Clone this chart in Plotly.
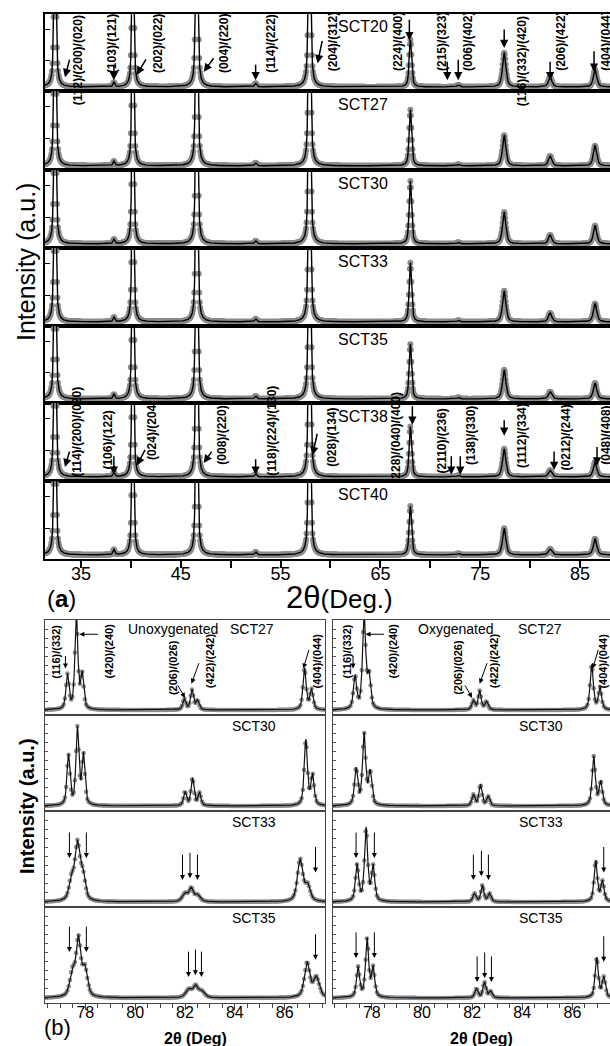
import numpy as np
import plotly.graph_objects as go

W, H = 610, 1046
FONT = "Liberation Sans, Arial, sans-serif"

# ---------------- data: panel (a) ----------------
A_SAMPLES = ["SCT20", "SCT27", "SCT30", "SCT33", "SCT35", "SCT38", "SCT40"]
A_PEAK_POS = [32.4, 38.3, 40.2, 46.6, 52.5, 57.9, 68.0, 72.8, 77.4, 82.0, 86.5]
A_PEAK_FWHM = [0.22, 0.2, 0.2, 0.24, 0.25, 0.25, 0.28, 0.3, 0.4, 0.4, 0.4]
A_HEIGHTS = {
    "SCT20": [3.0, 0.06, 3.0, 3.0, 0.05, 3.0, 0.65, 0.03, 0.47, 0.14, 0.24],
    "SCT27": [3.0, 0.06, 3.0, 3.0, 0.04, 3.0, 0.75, 0.02, 0.41, 0.13, 0.27],
    "SCT30": [3.0, 0.06, 3.0, 3.0, 0.04, 3.0, 0.85, 0.02, 0.43, 0.12, 0.25],
    "SCT33": [3.0, 0.06, 3.0, 3.0, 0.04, 3.0, 0.80, 0.02, 0.42, 0.12, 0.25],
    "SCT35": [3.0, 0.06, 3.0, 3.0, 0.04, 3.0, 0.75, 0.02, 0.40, 0.10, 0.22],
    "SCT38": [3.0, 0.06, 3.0, 3.0, 0.04, 3.0, 0.68, 0.02, 0.38, 0.09, 0.20],
    "SCT40": [3.0, 0.07, 3.0, 3.0, 0.04, 3.0, 0.66, 0.02, 0.36, 0.08, 0.22],
}
A_XRANGE = [31.4, 88.0]
A_TICKS = [35, 45, 55, 65, 75, 85]
A_MINOR_TICKS = [40, 50, 60, 70, 80]

# labels (text, x-position, y-fraction of row) and arrows (x, y-frac, ax px, ay px)
A_LABELS_TOP = [
    ("(112)/(200)/(020)", 34.7, 0.40), ("(103)/(121)", 38.1, 0.62), ("(202)/(022)", 42.7, 0.62),
    ("(004)/(220)", 49.4, 0.62), ("(114)/(222)", 54.1, 0.62), ("(204)/(312)", 60.2, 0.64),
    ("(224)/(400)", 66.7, 0.64), ("(215)/(323)", 71.1, 0.64), ("(006)/(402)", 73.7, 0.64),
    ("(116)/(332)/(420)", 79.2, 0.39), ("(206)/(422)", 83.1, 0.64), ("(404)/(044)", 87.6, 0.64),
]
A_ARROWS_TOP = [
    (33.4, 0.18, 5, -19), (38.3, 0.14, 0, -17), (40.6, 0.21, 10, -17), (47.3, 0.25, 11, -15),
    (52.5, 0.14, 0, -17), (58.7, 0.36, 5, -24), (67.9, 0.66, 0, -22), (71.7, 0.14, 0, -20),
    (72.8, 0.14, 0, -22), (77.4, 0.56, 0, -20), (82.0, 0.14, 0, -20), (86.4, 0.25, 0, -22),
]
A_LABELS_38 = [
    ("(114)/(200)/(020)", 34.6, 0.63), ("(106)/(122)", 37.7, 0.53), ("(024)/(204)", 42.1, 0.65),
    ("(008)/(220)", 49.1, 0.59), ("(118)/(224)/(130)", 54.1, 0.64), ("(028)/(134)", 60.2, 0.56),
    ("(228)/(040)/(400)", 66.6, 0.56), ("(2110)/(236)", 71.2, 0.51), ("(138)/(330)", 74.1, 0.58),
    ("(1112)/(334)", 79.2, 0.58), ("(0212)/(244)", 83.6, 0.56), ("(048)/(408)", 87.6, 0.58),
]
A_ARROWS_38 = [
    (33.4, 0.18, 5, -17), (38.3, 0.08, 0, -20), (40.6, 0.20, 9, -17), (47.3, 0.23, 9, -13),
    (52.5, 0.08, 0, -17), (58.2, 0.33, 5, -23), (68.2, 0.72, 0, -20), (72.1, 0.08, 0, -20),
    (73.0, 0.08, 0, -20), (77.4, 0.58, 0, -17), (82.4, 0.14, 0, -20), (86.7, 0.20, 0, -20),
]

# ---------------- data: panel (b) ----------------
B_SAMPLES = ["SCT27", "SCT30", "SCT33", "SCT35"]
B_UNOX_POS = {
    "SCT27": [77.28, 77.64, 77.87, 81.97, 82.28, 82.5, 86.8, 87.08],
    "SCT30": [77.32, 77.68, 77.92, 82.0, 82.3, 82.58, 86.85, 87.12],
    "SCT33": [77.44, 77.68, 77.9, 82.0, 82.25, 82.5, 86.62, 86.92],
    "SCT35": [77.48, 77.72, 77.98, 82.15, 82.42, 82.66, 86.9, 87.27],
}
B_UNOX_H = {
    "SCT27": [0.38, 1.05, 0.38, 0.12, 0.22, 0.10, 0.46, 0.22],
    "SCT30": [0.55, 0.84, 0.55, 0.15, 0.30, 0.14, 0.72, 0.33],
    "SCT33": [0.22, 0.62, 0.26, 0.09, 0.14, 0.07, 0.46, 0.17],
    "SCT35": [0.26, 0.62, 0.30, 0.09, 0.12, 0.07, 0.38, 0.22],
}
B_UNOX_W = {
    "SCT27": [0.14, 0.14, 0.14, 0.14, 0.14, 0.14, 0.15, 0.15],
    "SCT30": [0.14, 0.14, 0.14, 0.14, 0.14, 0.14, 0.15, 0.15],
    "SCT33": [0.22, 0.24, 0.22, 0.25, 0.2, 0.25, 0.25, 0.25],
    "SCT35": [0.24, 0.22, 0.24, 0.28, 0.22, 0.28, 0.25, 0.28],
}
B_OX_POS = {
    "SCT27": [77.33, 77.69, 77.89, 82.05, 82.3, 82.57, 86.77, 87.1],
    "SCT30": [77.37, 77.69, 77.93, 82.05, 82.33, 82.64, 86.85, 87.13],
    "SCT33": [77.41, 77.77, 78.05, 82.09, 82.41, 82.69, 86.93, 87.2],
    "SCT35": [77.45, 77.81, 78.05, 82.17, 82.49, 82.73, 86.97, 87.25],
}
B_OX_H = {
    "SCT27": [0.36, 1.05, 0.36, 0.10, 0.21, 0.09, 0.50, 0.24],
    "SCT30": [0.40, 0.78, 0.36, 0.12, 0.23, 0.10, 0.54, 0.26],
    "SCT33": [0.40, 0.80, 0.38, 0.09, 0.18, 0.09, 0.45, 0.22],
    "SCT35": [0.33, 0.64, 0.32, 0.10, 0.17, 0.07, 0.44, 0.22],
}
B_OX_W = {s: [0.15, 0.15, 0.15, 0.14, 0.14, 0.14, 0.15, 0.15] for s in B_SAMPLES}
B_XRANGE_L = [76.38, 87.62]
B_XRANGE_R = [76.45, 87.5]
B_TICKS = [78, 80, 82, 84, 86]
B_MINOR_TICKS = [76.5 + 0.5 * k for k in range(23)]

B_LABELS_TOP = [  # (text, x left col, x right col, yfrac)
    ("(116)/(332)", 76.84, 77.01, 0.67), ("(420)/(240)", 78.96, 78.85, 0.67),
    ("(206)/(026)", 81.5, 81.41, 0.50), ("(422)/(242)", 82.98, 82.85, 0.57),
    ("(404)/(044)", 87.28, 87.21, 0.57),
]
B_ARROWS_TOP = [  # (xL, xR, yfrac, ax, ay)
    (77.2, 77.25, 0.49, 0, -14), (77.76, 77.75, 0.85, 20, 0),
    (82.0, 82.0, 0.18, -8, -14), (82.26, 82.3, 0.33, 8, -22), (86.75, 86.81, 0.49, 6, -20),
]
B_ARROWS_33 = {
    "L": [(77.36, 0.51), (78.04, 0.51), (81.9, 0.28), (82.2, 0.30), (82.5, 0.28), (87.24, 0.36)],
    "R": [(77.37, 0.51), (78.1, 0.51), (82.05, 0.28), (82.37, 0.32), (82.65, 0.28), (87.25, 0.36)],
}
B_ARROWS_35 = {
    "L": [(77.36, 0.53), (78.04, 0.53), (82.14, 0.27), (82.42, 0.29), (82.66, 0.27), (87.24, 0.45)],
    "R": [(77.37, 0.47), (78.1, 0.47), (82.2, 0.22), (82.5, 0.26), (82.77, 0.22), (87.25, 0.43)],
}


def profile(x, pos, hts, fwhm, eta=0.6):
    y = np.zeros_like(x)
    for p, a, f in zip(pos, hts, fwhm):
        d = (x - p) / f
        y += a * (eta / (1 + 4 * d * d) + (1 - eta) * np.exp(-4 * np.log(2) * d * d))
    return y


fig = go.Figure()
layout = dict(width=W, height=H, margin=dict(l=0, r=0, t=0, b=0),
              paper_bgcolor="white", plot_bgcolor="white", showlegend=False,
              font=dict(family=FONT, color="black"))
annotations = []


def axname(i, kind):
    return f"{kind}axis" if i == 1 else f"{kind}axis{i}"


def ref(i, kind):
    return kind if i == 1 else f"{kind}{i}"


def ydom(top, bot):
    return [1 - bot / H, 1 - top / H]


def text_ann(text, x, y, xr, yr, size, angle=0):
    annotations.append(dict(text=text, x=x, y=y, xref=xr, yref=yr, textangle=angle,
                            showarrow=False, font=dict(size=size, family=FONT),
                            xanchor="center", yanchor="middle"))


def add_arrow(x, y, ax, ay, xr, yr, width=1.2, size=1.0):
    annotations.append(dict(text="", x=x, y=y, xref=xr, yref=yr, ax=ax, ay=ay,
                            showarrow=True, arrowhead=2, arrowsize=size, arrowwidth=width,
                            arrowcolor="black", standoff=0))


# ---------------- panel (a) ----------------
A_ROW_EDGES = [14, 91, 170, 248, 326, 403, 481, 559]
xa_data = np.arange(A_XRANGE[0], A_XRANGE[1] + 0.05, 0.05)
xa_fit = np.arange(A_XRANGE[0], A_XRANGE[1] + 0.005, 0.01)
for r, s in enumerate(A_SAMPLES):
    i = r + 1
    fw = A_PEAK_FWHM
    fig.add_trace(go.Scatter(x=xa_data, y=profile(xa_data, A_PEAK_POS, A_HEIGHTS[s], fw),
                             mode="markers", marker=dict(size=6, color="#8c8c8c"),
                             xaxis=ref(i, "x"), yaxis=ref(i, "y"), hoverinfo="skip"))
    fig.add_trace(go.Scatter(x=xa_fit, y=profile(xa_fit, A_PEAK_POS, A_HEIGHTS[s], fw),
                             mode="lines", line=dict(color="black", width=1.4),
                             xaxis=ref(i, "x"), yaxis=ref(i, "y"), hoverinfo="skip"))
    last = r == len(A_SAMPLES) - 1
    layout[axname(i, "x")] = dict(
        domain=[45 / W, 1.0], anchor=ref(i, "y"), range=A_XRANGE,
        showline=True, mirror=True, linecolor="black", linewidth=2,
        showgrid=False, zeroline=False,
        tickmode="array", tickvals=A_TICKS if last else [],
        ticks="outside" if last else "", ticklen=7, tickwidth=1.5, tickcolor="black",
        showticklabels=last, tickfont=dict(size=18, family=FONT), ticklabelstandoff=-10,
        minor=dict(tickmode="array", tickvals=A_MINOR_TICKS if last else [],
                   ticks="outside" if last else "", ticklen=7, tickwidth=1.5, tickcolor="black"),
    )
    layout[axname(i, "y")] = dict(
        domain=ydom(A_ROW_EDGES[r], A_ROW_EDGES[r + 1]), anchor=ref(i, "x"),
        range=[-0.055, 1.0], showline=True, mirror=False, linecolor="black", linewidth=2,
        showgrid=False, zeroline=False, showticklabels=False,
        tickmode="array", tickvals=[0.36, 0.79], ticks="inside", ticklen=5,
        tickwidth=1.2, tickcolor="black",
    )
    text_ann(s, 63.3, 1 - 13 / 77, ref(i, "x"), f"{ref(i, 'y')} domain", 16)

for t, x, y in A_LABELS_TOP:
    text_ann(f"<b>{t}</b>", x, y, "x", "y domain", 12, -90)
for x, y, ax, ay in A_ARROWS_TOP:
    add_arrow(x, y, ax, ay, "x", "y domain", 1.5, 1.1)
for t, x, y in A_LABELS_38:
    text_ann(f"<b>{t}</b>", x, y, "x6", "y6 domain", 12, -90)
for x, y, ax, ay in A_ARROWS_38:
    add_arrow(x, y, ax, ay, "x6", "y6 domain", 1.5, 1.1)

# ---------------- panel (b) ----------------
B_ROW_EDGES = [620, 715, 811, 907, 1003]
cols = [("L", [45 / W, 325 / W], B_XRANGE_L, B_UNOX_POS, B_UNOX_H, B_UNOX_W, True),
        ("R", [333 / W, 1.0], B_XRANGE_R, B_OX_POS, B_OX_H, B_OX_W, False)]
for c, (cname, xdom, xr, POS, HT, WD, mirror) in enumerate(cols):
    xb_data = np.arange(xr[0], xr[1] + 0.03, 0.05)
    xb_fit = np.arange(xr[0], xr[1] + 0.005, 0.005)
    for r, s in enumerate(B_SAMPLES):
        i = 8 + c * 4 + r
        fig.add_trace(go.Scatter(x=xb_data, y=profile(xb_data, POS[s], HT[s], WD[s]),
                                 mode="markers", marker=dict(size=4.5, color="#8c8c8c"),
                                 xaxis=ref(i, "x"), yaxis=ref(i, "y"), hoverinfo="skip"))
        fig.add_trace(go.Scatter(x=xb_fit, y=profile(xb_fit, POS[s], HT[s], WD[s]),
                                 mode="lines", line=dict(color="#111111", width=1.2),
                                 xaxis=ref(i, "x"), yaxis=ref(i, "y"), hoverinfo="skip"))
        last = r == len(B_SAMPLES) - 1
        layout[axname(i, "x")] = dict(
            domain=xdom, anchor=ref(i, "y"), range=xr,
            showline=True, mirror=True, linecolor="#444444", linewidth=1.2,
            showgrid=False, zeroline=False,
            tickmode="array", tickvals=B_TICKS if last else [],
            ticks="outside" if last else "", ticklen=6, tickwidth=1, tickcolor="#444444",
            showticklabels=last, tickfont=dict(size=16, family=FONT), ticklabelstandoff=-11,
            minor=dict(tickmode="array", tickvals=B_MINOR_TICKS if last else [],
                       ticks="outside" if last else "", ticklen=4, tickwidth=1,
                       tickcolor="#444444"),
        )
        layout[axname(i, "y")] = dict(
            domain=ydom(B_ROW_EDGES[r], B_ROW_EDGES[r + 1]), anchor=ref(i, "x"),
            range=[-0.055, 1.0], showline=True, mirror=mirror, linecolor="#444444",
            linewidth=1.2, showgrid=False, zeroline=False, showticklabels=False,
            tickmode="linear", tick0=0, dtick=0.1, ticks="inside", ticklen=3,
            tickwidth=1, tickcolor="#555555",
        )
        if r > 0:
            text_ann(s, 84.75, 0.885, ref(i, "x"), f"{ref(i, 'y')} domain", 14)
    # top row labels
    i0 = 8 + c * 4
    xr_ref, yr_ref = ref(i0, "x"), f"{ref(i0, 'y')} domain"
    for t, xl, xrr, yf in B_LABELS_TOP:
        text_ann(f"<b>{t}</b>", xl if cname == "L" else xrr, yf, xr_ref, yr_ref, 11, -90)
    for xl, xrr, yf, ax, ay in B_ARROWS_TOP:
        add_arrow(xl if cname == "L" else xrr, yf, ax, ay, xr_ref, yr_ref, 1.0, 1.0)
    text_ann("Unoxygenated" if cname == "L" else "Oxygenated",
             81.53 if cname == "L" else 81.37, 0.91, xr_ref, yr_ref, 14)
    text_ann("SCT27", 84.7, 0.91, xr_ref, yr_ref, 14)
    for (rows_arrows, rr) in ((B_ARROWS_33, 2), (B_ARROWS_35, 3)):
        i = 8 + c * 4 + rr
        for x, yf in rows_arrows[cname]:
            add_arrow(x, yf, 0, -27, ref(i, "x"), f"{ref(i, 'y')} domain", 1.0, 1.0)

# ---------------- titles ----------------
text_ann("Intensity (a.u.)", 26 / W, 1 - 262 / H, "paper", "paper", 25, -90)
text_ann("2θ<span style='font-size:26px'>(Deg.)</span>", 339 / W, 1 - 597 / H,
         "paper", "paper", 31)
text_ann("(<b>a</b>)", 61 / W, 1 - 598 / H, "paper", "paper", 24)
text_ann("<b>Intensity (a.u.)</b>", 27 / W, 1 - 806 / H, "paper", "paper", 20, -90)
text_ann("<b>2θ (Deg)</b>", 195 / W, 1 - 1038 / H, "paper", "paper", 16)
text_ann("<b>2θ (Deg)</b>", 481 / W, 1 - 1038 / H, "paper", "paper", 16)
text_ann("(b)", 57 / W, 1 - 1027 / H, "paper", "paper", 22)

layout["annotations"] = annotations
fig.update_layout(**layout)
fig.write_html("out.html", config={"displayModeBar": False},
               post_script="document.body.style.margin='0px';document.body.style.overflow='hidden';")
